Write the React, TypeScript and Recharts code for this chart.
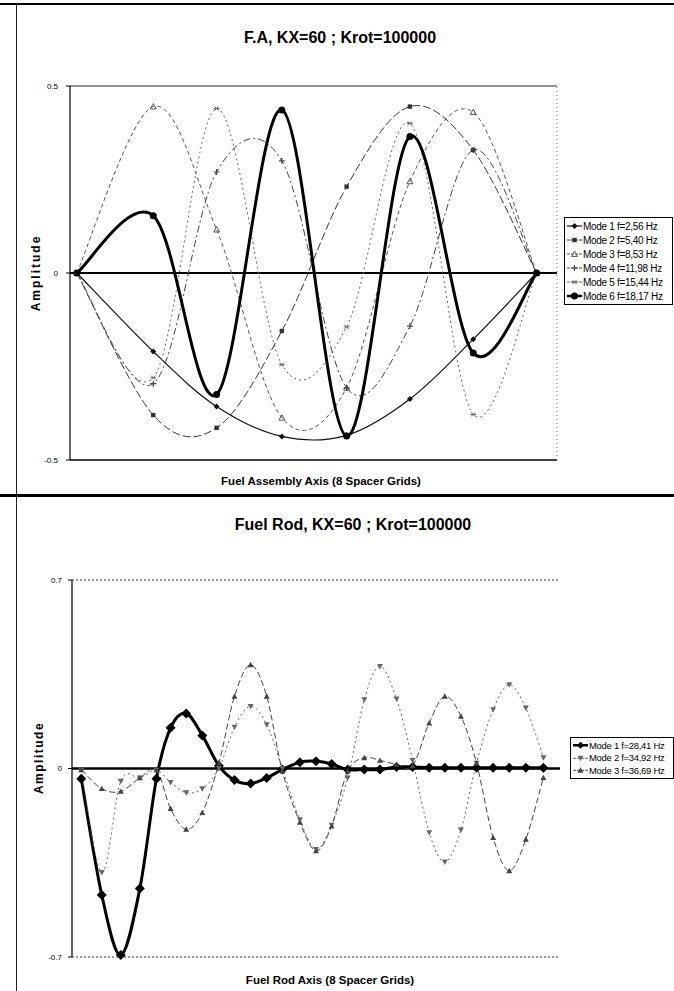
import React from 'react'
import { LineChart, Line, XAxis, YAxis, ReferenceLine } from 'recharts'

// F.A chart: the 8 spacer grid positions along the assembly (0..100 of the axis)
const FA_X = [1.4, 17.1, 30.1, 43.5, 56.8, 69.8, 82.8, 95.8]
const FA_MODE1 = [0, -0.21, -0.357, -0.437, -0.434, -0.337, -0.177, 0]
const FA_MODE2 = [0, -0.38, -0.414, -0.155, 0.231, 0.445, 0.329, 0]
const FA_MODE3 = [0, 0.445, 0.116, -0.387, -0.307, 0.245, 0.43, 0]
const FA_MODE4 = [0, -0.296, 0.27, 0.3, -0.307, -0.142, 0.329, 0]
const FA_MODE5 = [0, -0.28, 0.44, -0.245, -0.144, 0.4, -0.378, 0]
const FA_MODE6 = [0, 0.153, -0.325, 0.436, -0.436, 0.365, -0.214, 0]
const FA_LABELS = [
  'Mode 1 f=2,56 Hz',
  'Mode 2 f=5,40 Hz',
  'Mode 3 f=8,53 Hz',
  'Mode 4 f=11,98 Hz',
  'Mode 5 f=15,44 Hz',
  'Mode 6 f=18,17 Hz',
]
const FA_TICKS = [-0.5, 0, 0.5]

// fuel rod chart: nodes along the rod (0..100 of the axis)
const ROD_X = [
  1.9, 6.1, 10.0, 13.9, 17.3, 20.2, 23.4, 26.7, 30.1, 33.3, 36.6, 39.9, 43.1, 46.7, 50.0,
  53.2, 56.5, 59.9, 63.1, 66.5, 69.8, 73.2, 76.4, 79.7, 82.9, 86.3, 89.6, 93.0, 96.6,
]
const ROD_MODE1 = [
  -0.038, -0.47, -0.693, -0.446, -0.038, 0.151, 0.204, 0.123, 0.01, -0.043, -0.056, -0.035,
  -0.004, 0.023, 0.027, 0.017, -0.004, -0.004, -0.004, 0.006, 0.006, 0.003, 0.003, 0.003,
  0.003, 0.003, 0.003, 0.003, 0.003,
]
const ROD_MODE2 = [
  -0.005, -0.386, -0.047, -0.035, -0.006, -0.052, -0.09, -0.075, 0.0, 0.154, 0.231, 0.163,
  0.0, -0.19, -0.3, -0.21, -0.035, 0.256, 0.379, 0.258, 0.03, -0.238, -0.347, -0.228, 0.02,
  0.219, 0.311, 0.225, 0.04,
]
const ROD_MODE3 = [
  -0.005, -0.075, -0.085, -0.035, -0.006, -0.149, -0.226, -0.164, 0.02, 0.268, 0.385, 0.268,
  -0.01, -0.2, -0.306, -0.214, -0.01, 0.04, 0.03, 0.015, 0.01, 0.169, 0.268, 0.194, 0.02,
  -0.257, -0.38, -0.263, -0.034,
]
const ROD_LABELS = ['Mode 1 f=28,41 Hz', 'Mode 2 f=34,92 Hz', 'Mode 3 f=36,69 Hz']
const ROD_TICKS = [-0.7, 0, 0.7]

const faData = FA_X.map((x, i) => ({
  x,
  m1: FA_MODE1[i],
  m2: FA_MODE2[i],
  m3: FA_MODE3[i],
  m4: FA_MODE4[i],
  m5: FA_MODE5[i],
  m6: FA_MODE6[i],
}))

const rodData = ROD_X.map((x, i) => ({
  x,
  m1: ROD_MODE1[i],
  m2: ROD_MODE2[i],
  m3: ROD_MODE3[i],
}))

// Excel-like smoothed line (bezier through the points, 1/6 tangents)
const excelSmooth = (context: any) => {
  let pts: number[][] = []
  return {
    areaStart() {},
    areaEnd() {},
    lineStart() {
      pts = []
    },
    point(x: number, y: number) {
      pts.push([+x, +y])
    },
    lineEnd() {
      const n = pts.length
      if (!n) return
      context.moveTo(pts[0][0], pts[0][1])
      for (let i = 0; i < n - 1; i++) {
        const p0 = pts[i > 0 ? i - 1 : 0]
        const p1 = pts[i]
        const p2 = pts[i + 1]
        const p3 = pts[i + 2 < n ? i + 2 : n - 1]
        context.bezierCurveTo(
          p1[0] + (p2[0] - p0[0]) / 6,
          p1[1] + (p2[1] - p0[1]) / 6,
          p2[0] - (p3[0] - p1[0]) / 6,
          p2[1] - (p3[1] - p1[1]) / 6,
          p2[0],
          p2[1]
        )
      }
    },
  }
}

type MarkerKind = 'diamond' | 'square' | 'triUp' | 'triUpFill' | 'triDown' | 'plus' | 'star' | 'circle'

function markerShape(kind: MarkerKind, cx: number, cy: number, s: number, color: string, key?: string) {
  switch (kind) {
    case 'diamond':
      return <path key={key} d={`M${cx},${cy - s}L${cx + s},${cy}L${cx},${cy + s}L${cx - s},${cy}Z`} fill={color} />
    case 'square':
      return <rect key={key} x={cx - s} y={cy - s} width={s * 2} height={s * 2} fill={color} />
    case 'triUp':
      return <path key={key} d={`M${cx},${cy - s}L${cx + s},${cy + s * 0.8}L${cx - s},${cy + s * 0.8}Z`} fill="none" stroke={color} strokeWidth={1} />
    case 'triUpFill':
      return <path key={key} d={`M${cx},${cy - s}L${cx + s},${cy + s * 0.8}L${cx - s},${cy + s * 0.8}Z`} fill={color} />
    case 'triDown':
      return <path key={key} d={`M${cx},${cy + s}L${cx + s},${cy - s * 0.8}L${cx - s},${cy - s * 0.8}Z`} fill={color} />
    case 'plus':
      return <path key={key} d={`M${cx - s},${cy}H${cx + s}M${cx},${cy - s}V${cy + s}`} stroke={color} strokeWidth={1.2} />
    case 'star':
      return (
        <path
          key={key}
          d={`M${cx - s},${cy}H${cx + s}M${cx - s * 0.7},${cy - s * 0.7}L${cx + s * 0.7},${cy + s * 0.7}M${cx + s * 0.7},${cy - s * 0.7}L${cx - s * 0.7},${cy + s * 0.7}`}
          stroke={color}
          strokeWidth={1}
        />
      )
    default:
      return <circle key={key} cx={cx} cy={cy} r={s} fill={color} />
  }
}

const dotOf = (kind: MarkerKind, s: number, color: string) => (p: any) => {
  if (p.cx == null || p.cy == null) return <g key={`e-${p.index}`} />
  return markerShape(kind, p.cx, p.cy, s, color, `${kind}-${p.dataKey}-${p.index}`)
}

interface SeriesStyle {
  key: string
  color: string
  width: number
  dash?: string
  marker: MarkerKind
  size: number
}

const FA_STYLES: SeriesStyle[] = [
  { key: 'm1', color: '#111', width: 1.2, marker: 'diamond', size: 3 },
  { key: 'm2', color: '#333', width: 1, dash: '8 3', marker: 'square', size: 2.2 },
  { key: 'm3', color: '#555', width: 1, dash: '4 3', marker: 'triUp', size: 3 },
  { key: 'm4', color: '#444', width: 1, dash: '7 3 2 3', marker: 'plus', size: 3 },
  { key: 'm5', color: '#666', width: 1, dash: '2 3', marker: 'star', size: 3 },
  { key: 'm6', color: '#000', width: 3, marker: 'circle', size: 3.5 },
]

const ROD_STYLES: SeriesStyle[] = [
  { key: 'm1', color: '#000', width: 3, marker: 'diamond', size: 5 },
  { key: 'm2', color: '#666', width: 1, dash: '2 3', marker: 'triDown', size: 3 },
  { key: 'm3', color: '#444', width: 1, dash: '6 3', marker: 'triUpFill', size: 3 },
]

function LegendBox({ styles, labels, left, top, width, rowH, fontSize }: {
  styles: SeriesStyle[]
  labels: string[]
  left: number
  top: number
  width: number
  rowH: number
  fontSize: number
}) {
  return (
    <div
      style={{
        position: 'absolute',
        left,
        top,
        width,
        border: '1px solid #000',
        background: '#fff',
        padding: '1px 0',
        whiteSpace: 'nowrap',
        overflow: 'hidden',
      }}
    >
      {labels.map((label, i) => {
        const st = styles[i]
        return (
          <div key={label} style={{ height: rowH, display: 'flex', alignItems: 'center', fontSize }}>
            <svg width={15} height={rowH} style={{ marginLeft: 2, flex: 'none' }}>
              <line
                x1={0}
                x2={15}
                y1={rowH / 2}
                y2={rowH / 2}
                stroke={st.color}
                strokeWidth={Math.min(st.width, 2.5)}
                strokeDasharray={st.dash ? '3 1' : undefined}
              />
              {markerShape(st.marker, 7.5, rowH / 2, Math.min(st.size, 3.5), st.color)}
            </svg>
            <span style={{ marginLeft: 1, letterSpacing: -0.3 }}>{label}</span>
          </div>
        )
      })}
    </div>
  )
}

const textBase: React.CSSProperties = {
  position: 'absolute',
  fontFamily: '"Liberation Sans", Arial, sans-serif',
  fontWeight: 'bold',
  color: '#000',
  whiteSpace: 'nowrap',
  transform: 'translate(-50%, -50%)',
}

export default function App() {
  return (
    <div
      style={{
        position: 'absolute',
        left: 0,
        top: 0,
        width: 674,
        height: 991,
        overflow: 'hidden',
        background: '#fff',
        fontFamily: '"Liberation Sans", Arial, sans-serif',
      }}
    >
      {/* frame lines */}
      <div style={{ position: 'absolute', left: 0, top: 3, width: 674, height: 2, background: '#000' }} />
      <div style={{ position: 'absolute', left: 16, top: 3, width: 1, height: 988, background: '#222' }} />
      <div style={{ position: 'absolute', left: 0, top: 494, width: 674, height: 3, background: '#000' }} />

      {/* F.A chart */}
      <div style={{ ...textBase, left: 340, top: 38, fontSize: 16 }}>F.A, KX=60 ; Krot=100000</div>
      <div style={{ ...textBase, left: 321, top: 481, fontSize: 11.5 }}>Fuel Assembly Axis (8 Spacer Grids)</div>
      <div style={{ ...textBase, left: 36, top: 273, fontSize: 12, letterSpacing: 2, transform: 'translate(-50%, -50%) rotate(-90deg)' }}>
        Amplitude
      </div>
      <div style={{ position: 'absolute', left: 0, top: 0 }}>
        <LineChart width={674} height={493} data={faData} margin={{ top: 86, right: 117, bottom: 33, left: 40 }}>
          <XAxis dataKey="x" type="number" domain={[0, 100]} hide />
          <YAxis
            width={30}
            domain={[-0.5, 0.5]}
            ticks={FA_TICKS}
            tickFormatter={(v: number) => String(v)}
            tick={{ fontSize: 8, fill: '#000' }}
            tickSize={4}
            tickMargin={8}
            axisLine={{ stroke: '#000', strokeWidth: 1.2 }}
            tickLine={{ stroke: '#000' }}
          />
          <ReferenceLine y={0.5} stroke="#222" strokeWidth={1.2} />
          <ReferenceLine y={-0.5} stroke="#000" strokeWidth={1.4} />
          <ReferenceLine x={100} stroke="#777" strokeDasharray="1 3" />
          <ReferenceLine y={0} stroke="#000" strokeWidth={2} />
          {FA_STYLES.map((st) => (
            <Line
              key={st.key}
              dataKey={st.key}
              type={excelSmooth as any}
              stroke={st.color}
              strokeWidth={st.width}
              strokeDasharray={st.dash}
              dot={dotOf(st.marker, st.size, st.color)}
              activeDot={false}
              isAnimationActive={false}
            />
          ))}
        </LineChart>
      </div>
      <LegendBox styles={FA_STYLES} labels={FA_LABELS} left={564} top={217} width={107} rowH={14} fontSize={10} />

      {/* Fuel rod chart */}
      <div style={{ ...textBase, left: 353, top: 525, fontSize: 16 }}>Fuel Rod, KX=60 ; Krot=100000</div>
      <div style={{ ...textBase, left: 330, top: 980, fontSize: 11.5 }}>Fuel Rod Axis (8 Spacer Grids)</div>
      <div style={{ ...textBase, left: 39, top: 758, fontSize: 12, letterSpacing: 1.5, transform: 'translate(-50%, -50%) rotate(-90deg)' }}>
        Amplitude
      </div>
      <div style={{ position: 'absolute', left: 0, top: 493 }}>
        <LineChart width={674} height={498} data={rodData} margin={{ top: 87, right: 114, bottom: 34, left: 42 }}>
          <XAxis dataKey="x" type="number" domain={[0, 100]} hide />
          <YAxis
            width={30}
            domain={[-0.7, 0.7]}
            ticks={ROD_TICKS}
            tickFormatter={(v: number) => String(v)}
            tick={{ fontSize: 8, fill: '#000' }}
            tickSize={4}
            tickMargin={6}
            axisLine={{ stroke: '#000', strokeWidth: 1.2 }}
            tickLine={{ stroke: '#000' }}
          />
          <ReferenceLine y={0.7} stroke="#333" strokeDasharray="2 2" />
          <ReferenceLine y={-0.7} stroke="#333" strokeDasharray="2 2" />
          <ReferenceLine y={0} stroke="#000" strokeWidth={2.5} />
          {ROD_STYLES.map((st) => (
            <Line
              key={st.key}
              dataKey={st.key}
              type={excelSmooth as any}
              stroke={st.color}
              strokeWidth={st.width}
              strokeDasharray={st.dash}
              dot={dotOf(st.marker, st.size, st.color)}
              activeDot={false}
              isAnimationActive={false}
            />
          ))}
        </LineChart>
      </div>
      <LegendBox styles={ROD_STYLES} labels={ROD_LABELS} left={570} top={737} width={102} rowH={12.5} fontSize={9.5} />
    </div>
  )
}
